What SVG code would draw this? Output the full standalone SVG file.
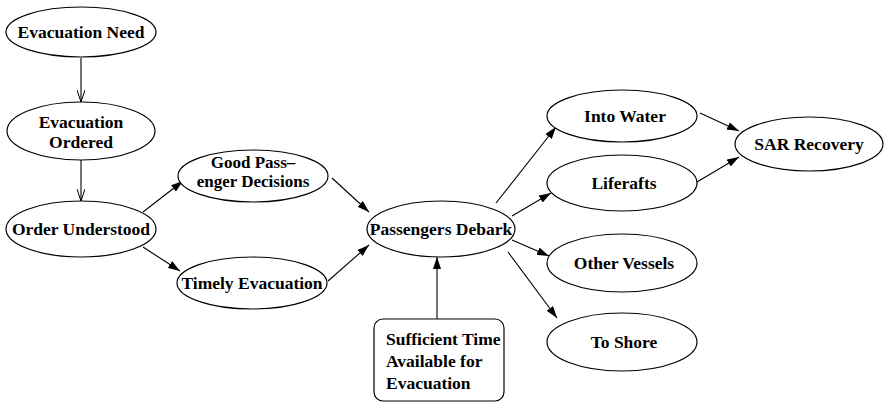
<svg xmlns="http://www.w3.org/2000/svg" width="884" height="403" viewBox="0 0 884 403">
  <style>
    .node ellipse, .node rect { fill: #fff; stroke: #000; stroke-width: 1.2; }
    .node text { font-family: 'Liberation Serif', 'Times New Roman', Times, serif; font-weight: 700; font-size: 17.5px; fill: #000; text-anchor: middle; }
    .node text.left { text-anchor: start; }
    .node text.tight { font-size: 17px; }
    .edges line { stroke: #000; stroke-width: 1.1; fill: none; }
    .edges .solid { marker-end: url(#arrow); }
    .edges .open { marker-end: url(#vee); }
  </style>
  <defs>
    <marker id="arrow" viewBox="0 0 12 8" refX="12" refY="4" markerWidth="12" markerHeight="8" markerUnits="userSpaceOnUse" orient="auto">
      <path d="M0,0 L12,4 L0,8 Z" fill="#000"/>
    </marker>
    <marker id="vee" viewBox="0 0 12 8" refX="12" refY="4" markerWidth="12" markerHeight="8" markerUnits="userSpaceOnUse" orient="auto">
      <path d="M0,0 L12,4 L0,8" fill="none" stroke="#000" stroke-width="1"/>
    </marker>
  </defs>

  <g class="edges">
    <line class="open" x1="81" y1="58" x2="81" y2="102"/>
    <line class="open" x1="81" y1="160" x2="81" y2="201"/>
    <line class="solid" x1="143" y1="212" x2="183" y2="181"/>
    <line class="solid" x1="143" y1="247" x2="180" y2="271"/>
    <line class="solid" x1="332" y1="178" x2="369" y2="212"/>
    <line class="solid" x1="328" y1="281" x2="369" y2="245"/>
    <line class="solid" x1="437" y1="319" x2="437" y2="257"/>
    <line class="solid" x1="496" y1="203" x2="556" y2="127"/>
    <line class="solid" x1="512" y1="216" x2="551" y2="193"/>
    <line class="solid" x1="512" y1="240" x2="549" y2="256"/>
    <line class="solid" x1="508" y1="252" x2="557" y2="318"/>
    <line class="solid" x1="700" y1="113" x2="739" y2="131"/>
    <line class="solid" x1="697" y1="182" x2="739" y2="157"/>
  </g>

  <g id="evacuation-need" class="node">
    <ellipse cx="81" cy="32" rx="75" ry="25"/>
    <text x="81" y="38">Evacuation Need</text>
  </g>
  <g id="evacuation-ordered" class="node">
    <ellipse cx="81" cy="131" rx="74" ry="29"/>
    <text x="81" y="128">Evacuation</text>
    <text x="81" y="148">Ordered</text>
  </g>
  <g id="order-understood" class="node">
    <ellipse cx="81" cy="229" rx="75" ry="28"/>
    <text x="81" y="235">Order Understood</text>
  </g>
  <g id="good-passenger-decisions" class="node">
    <ellipse cx="253" cy="176" rx="75" ry="26"/>
    <text class="tight" x="253" y="168">Good Pass–</text>
    <text class="tight" x="253" y="187">enger Decisions</text>
  </g>
  <g id="timely-evacuation" class="node">
    <ellipse cx="252" cy="283" rx="75" ry="26"/>
    <text x="252" y="289">Timely Evacuation</text>
  </g>
  <g id="passengers-debark" class="node">
    <ellipse cx="441" cy="229" rx="74" ry="28"/>
    <text x="441" y="235">Passengers Debark</text>
  </g>
  <g id="sufficient-time" class="node">
    <rect x="374" y="319" width="130" height="82" rx="9" ry="9"/>
    <text class="left" x="386" y="345">Sufficient Time</text>
    <text class="left" x="386" y="367">Available for</text>
    <text class="left" x="386" y="389">Evacuation</text>
  </g>
  <g id="into-water" class="node">
    <ellipse cx="622" cy="116" rx="75" ry="26"/>
    <text x="625" y="122">Into Water</text>
  </g>
  <g id="liferafts" class="node">
    <ellipse cx="622" cy="183" rx="75" ry="28"/>
    <text x="624" y="189">Liferafts</text>
  </g>
  <g id="other-vessels" class="node">
    <ellipse cx="622" cy="263" rx="75" ry="29"/>
    <text x="624" y="269">Other Vessels</text>
  </g>
  <g id="to-shore" class="node">
    <ellipse cx="622" cy="342" rx="75" ry="29"/>
    <text x="624" y="348">To Shore</text>
  </g>
  <g id="sar-recovery" class="node">
    <ellipse cx="809" cy="144" rx="74" ry="27"/>
    <text x="809" y="150">SAR Recovery</text>
  </g>
</svg>
